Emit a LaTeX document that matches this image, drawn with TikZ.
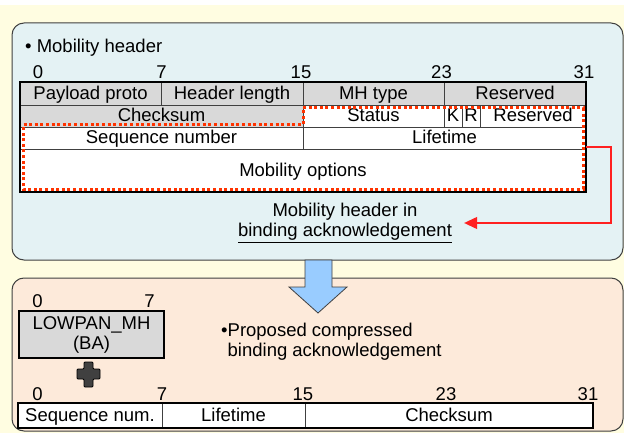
\documentclass[tikz,border=0pt]{standalone}
\usepackage{fontspec}
\setmainfont{Liberation Sans}
\usetikzlibrary{arrows.meta,positioning}
\definecolor{bgyellow}{HTML}{FFFDE1}
\definecolor{topcyan}{HTML}{E4F2F4}
\definecolor{botpeach}{HTML}{FDEADA}
\definecolor{cellgray}{HTML}{D9D9D9}
\definecolor{linegray}{HTML}{404040}
\definecolor{arrowblue}{HTML}{99CCFF}
\definecolor{dotred}{HTML}{FF3300}
\definecolor{pointred}{HTML}{FF2020}
\newcommand{\figfont}{\fontsize{18.5}{20}\selectfont}
\tikzset{>=Stealth,
  cell/.style={draw=linegray, line width=0.8pt, inner sep=0pt, outer sep=0pt, anchor=north west,
    text height=13pt, text depth=1pt, font=\figfont},
  graycell/.style={cell, fill=cellgray},
  whitecell/.style={cell, fill=white},
  bit/.style={inner sep=0pt, font=\figfont},
  panel/.style={draw=linegray, line width=1pt, rounded corners=12pt},
  dotline/.style={draw=dotred, line width=3pt, dash pattern=on 3pt off 2.6pt},
  textblock/.style={inner sep=0pt, font=\figfont}
}

\begin{document}
\begin{tikzpicture}[x=1pt,y=-1pt]
	\useasboundingbox (0,0) rectangle (624,433);
	\fill[bgyellow] (0,5) rectangle (624,433);
	\draw[panel, fill=topcyan] (12,23) rectangle (623,260);
	\draw[panel, fill=botpeach] (12,278) rectangle (623,431);

	\node[textblock, anchor=base west] (title) at (25,53) {\textbullet\ Mobility header};
	\foreach \b/\x in {0/38,7/161.5,15/301,23/441.5,31/584}
	\node[bit] (tb\b) at (\x,72.5) {\b};

	\node[graycell, minimum width=141pt, minimum height=23pt] (pp) at (20,82) {Payload proto};
	\node[graycell, minimum width=142pt, minimum height=23pt] (hl) at (pp.north east) {Header length};
	\node[graycell, minimum width=141pt, minimum height=23pt] (mt) at (hl.north east) {MH type};
	\node[graycell, minimum width=142pt, minimum height=23pt] (rs) at (mt.north east) {Reserved};
	\node[graycell, minimum width=283pt, minimum height=22pt] (ck) at (pp.south west) {Checksum};
	\node[whitecell, minimum width=141pt, minimum height=22pt] (st) at (ck.north east) {Status};
	\node[whitecell, minimum width=18pt, minimum height=22pt] (kb) at (st.north east) {K};
	\node[whitecell, minimum width=18pt, minimum height=22pt] (rb) at (kb.north east) {R};
	\node[whitecell, minimum width=106pt, minimum height=22pt] (rs2) at (rb.north east) {Reserved};
	\node[whitecell, minimum width=283pt, minimum height=22pt] (sq) at (ck.south west) {Sequence number};
	\node[whitecell, minimum width=283pt, minimum height=22pt] (lt) at (sq.north east) {Lifetime};
	\node[whitecell, minimum width=566pt, minimum height=43pt] (opt) at (sq.south west) {Mobility options};
	\draw[line width=2pt] (pp.north west) rectangle (opt.south east);
	\draw[dotline] ([yshift=-3pt]st.north west) -- ([shift={(-3pt,-3pt)}]rs2.north east)
		-- ([shift={(-3pt,3pt)}]opt.south east) -- ([shift={(3pt,3pt)}]opt.south west)
		-- ([shift={(3pt,2pt)}]sq.north west) -- ([yshift=2pt]ck.south east) -- cycle;

	\node[textblock, align=center] (note) at (345,223) {Mobility header in\\\underline{binding acknowledgement}};
	\draw[pointred, line width=1.2pt, -{Triangle[length=13pt,width=12pt]}] ([yshift=2pt]opt.north east) -- ++(25,0) |- ([xshift=12pt]note.east);

	\draw[draw=linegray, fill=arrowblue, line width=0.8pt] (305,260) -- (332,260) -- (332,287) -- (347,287) -- (318,313) -- (289,287) -- (305,287) -- cycle;

	\node[bit] (lb0) at (37.5,301) {0};
	\node[bit] (lb7) at (149.5,301) {7};
	\node[draw=black, line width=2pt, fill=cellgray, minimum width=145pt, minimum height=47pt,
		anchor=north west, align=center, textblock] (lowpan) at (18,310) {LOWPAN\_MH\\(BA)};
	\draw[draw=black, fill=linegray, line width=0.8pt, rounded corners=1pt] (84,362) -- (93,362) -- (93,369) -- (100,369) -- (100,379) -- (93,379) -- (93,387) -- (84,387) -- (84,379) -- (77,379) -- (77,369) -- (84,369) -- cycle;
	\node[textblock, anchor=west, align=left] (prop) at (221,342) {\textbullet Proposed compressed\\\hphantom{\textbullet}binding acknowledgement};

	\foreach \b/\x in {0/37.5,7/162,15/303,23/446,31/588}
	\node[bit] (bb\b) at (\x,394.5) {\b};
	\node[whitecell, minimum width=144pt, minimum height=25pt] (sqn) at (18,403) {Sequence num.};
	\node[whitecell, minimum width=143pt, minimum height=25pt] (lt2) at (sqn.north east) {Lifetime};
	\node[whitecell, minimum width=288pt, minimum height=25pt] (cks) at (lt2.north east) {Checksum};
	\draw[line width=2pt] (sqn.north west) rectangle (cks.south east);
\end{tikzpicture}
\end{document}
